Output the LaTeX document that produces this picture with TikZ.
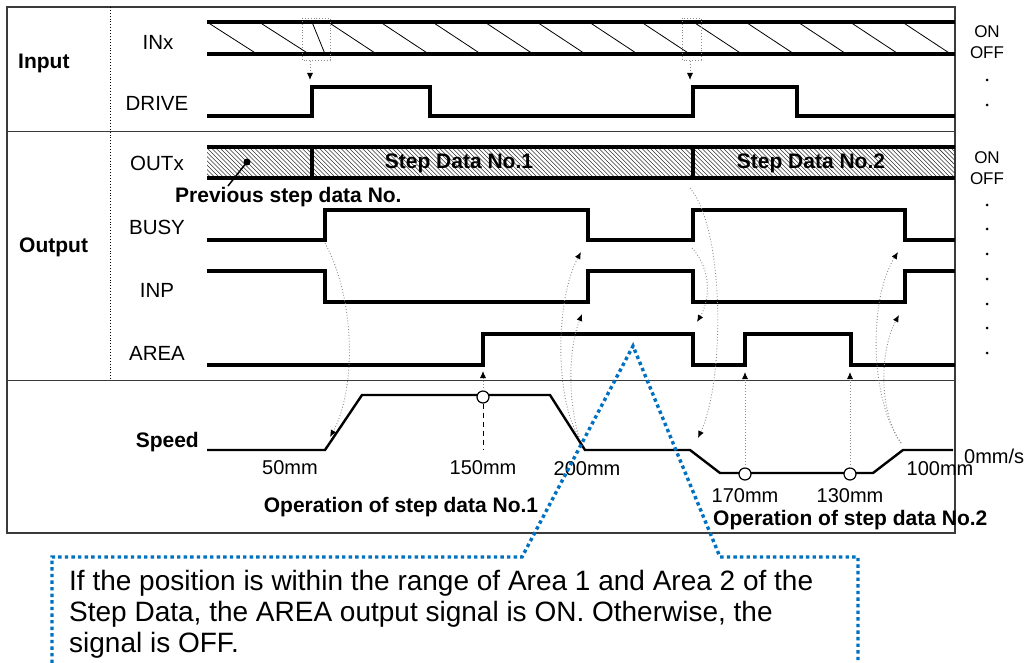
\documentclass[tikz,border=0pt]{standalone}
\usepackage{fontspec}
\setmainfont{Liberation Sans}
\usetikzlibrary{arrows.meta}
\definecolor{calloutblue}{HTML}{0070C0}
\definecolor{framegray}{HTML}{3A3A3A}
\definecolor{causegray}{HTML}{8C8C8C}
\begin{document}
\begin{tikzpicture}[x=1pt,y=-1pt,
  sig/.style={line width=3.2pt, line join=miter},
  spd/.style={line width=2.4pt, line join=miter},
  framestyle/.style={line width=1.3pt, draw=framegray},
  seplin/.style={line width=1pt, draw=framegray},
  lbl/.style={font=\fontsize{20.5}{24}\selectfont, inner sep=0pt},
  blbl/.style={font=\fontsize{21}{24}\selectfont\bfseries, inner sep=0pt},
  mmlbl/.style={font=\fontsize{20}{22}\selectfont, inner sep=0pt},
  onoff/.style={font=\fontsize{17}{20}\selectfont, inner sep=0pt},
  calltext/.style={font=\fontsize{28}{31}\selectfont, inner sep=0pt, anchor=base west},
  cause/.style={draw=causegray, dotted, line width=0.9pt, -{Latex[length=7pt,width=6pt,color=black]}},
  hatchln/.style={line width=0.8pt},
  gbox/.style={draw=causegray, dotted, line width=0.9pt},
  posmark/.style={circle, draw, fill=white, line width=1.2pt, minimum size=12pt, inner sep=0pt},
  bluedot/.style={draw=calloutblue, line width=3.4pt, dash pattern=on 3.4pt off 3.2pt},
  ondot/.style={circle, fill=black, minimum size=3pt, inner sep=0pt},
]
\useasboundingbox (0,0) rectangle (1031,663);

% ---------- frame ----------
\draw[framestyle] (7,7) rectangle (955,533);
\draw[seplin] (7,132) -- (955,132);
\draw[seplin] (7,380) -- (955,380);
\draw[dotted, line width=0.9pt] (110,7) -- (110,380);

% ---------- section labels ----------
\node[blbl, anchor=west] (input) at (18,63) {Input};
\node[blbl, anchor=west] (output) at (19,247) {Output};
\node[blbl, anchor=east] (speed) at (199,442) {Speed};

\node[lbl] (inx) at (158,42) {INx};
\node[lbl] (drive) at (157,103) {DRIVE};
\node[lbl] (outx) at (157,163) {OUTx};
\node[lbl] (busy) at (157,227) {BUSY};
\node[lbl] (inp) at (157,290) {INP};
\node[lbl] (area) at (157,353) {AREA};

% ---------- INx ----------
\foreach \t in {207,259} \draw[hatchln] (\t,22) -- (\t+50,54);
\draw[hatchln] (312,22) -- (325,54);
\foreach \k in {0,...,11} {
  \pgfmathsetmacro\tt{328+52.2*\k}
  \draw[hatchln] (\tt,22) -- (\tt+48.5,54);
}
\draw[sig] (207,22) -- (955,22);
\draw[sig] (207,54) -- (955,54);
\draw[gbox] (302,18) rectangle (330,60);
\draw[gbox] (682,18) rectangle (701,60);
\coordinate (boxA) at (310,61);
\coordinate (driveA) at (310,80);
\coordinate (boxB) at (690,61);
\coordinate (driveB) at (690,80);
\draw[cause] (boxA) -- (driveA);
\draw[cause] (boxB) -- (driveB);

% ---------- DRIVE ----------
\draw[sig] (207,116) -- (312,116) -- (312,87) -- (430,87) -- (430,116) -- (693,116) -- (693,87) -- (797,87) -- (797,116) -- (955,116);

% ---------- OUTx ----------
\begin{scope}
  \clip (207,147) rectangle (955,178);
  \foreach \x in {176,180.3,...,956} \draw[line width=0.55pt, draw=black!80] (\x,147) -- (\x+31,178);
\end{scope}
\draw[sig] (207,147) -- (955,147);
\draw[sig] (207,178) -- (955,178);
\draw[sig] (312,147) -- (312,178);
\draw[sig] (693,147) -- (693,178);
\node[blbl] (sd1) at (459,163) {Step Data No.1};
\node[blbl] (sd2) at (811,163) {Step Data No.2};
\node[circle, fill=black, minimum size=7pt, inner sep=0pt] (prevdot) at (247,162) {};
\coordinate (prevend) at (228,186);
\draw[line width=1.5pt] (prevdot.center) -- (prevend);
\node[blbl, anchor=west] (prev) at (175,197) {Previous step data No.};

% ---------- BUSY / INP / AREA ----------
\draw[sig] (207,240) -- (325,240) -- (325,210) -- (588,210) -- (588,240) -- (693,240) -- (693,210) -- (905,210) -- (905,240) -- (955,240);
\draw[sig] (207,271) -- (325,271) -- (325,302) -- (588,302) -- (588,271) -- (693,271) -- (693,302) -- (905,302) -- (905,271) -- (955,271);
\draw[sig] (207,365) -- (483,365) -- (483,334) -- (693,334) -- (693,365) -- (745,365) -- (745,334) -- (851,334) -- (851,365) -- (955,365);

% ---------- ON/OFF marks ----------
\node[onoff] (on1) at (987,32) {ON};
\node[onoff] (off1) at (987,53) {OFF};
\node[ondot] (d1) at (987,80) {};
\node[ondot] (d2) at (987,105) {};
\node[onoff] (on2) at (987,158) {ON};
\node[onoff] (off2) at (987,179) {OFF};
\foreach \y [count=\i] in {205,229,254,279,304,328,353}
  \node[ondot] (e\i) at (987,\y) {};

% ---------- Speed ----------
\draw[spd] (207,450) -- (325,450) -- (362,395) -- (550,395) -- (585,450) -- (690,450) -- (720,473) -- (873,473) -- (903,450) -- (953,450);
\node[posmark] (p150) at (483,397) {};
\node[posmark] (p170) at (745,474) {};
\node[posmark] (p130) at (850,474) {};
\coordinate (p150base) at (483,450);
\draw[line width=1pt, dash pattern=on 5pt off 4pt] (p150.south) -- (p150base);
\coordinate (areaUp1) at (483,371);
\coordinate (areaDn1) at (745,372);
\coordinate (areaUp2) at (850,372);
\draw[cause] (p150.north) -- (areaUp1);
\draw[cause] (p170.north) -- (areaDn1);
\draw[cause] (p130.north) -- (areaUp2);

\node[mmlbl] (m50) at (290,468) {50mm};
\node[mmlbl] (m150) at (483,468) {150mm};
\node[mmlbl] (m200) at (587,469) {200mm};
\node[mmlbl] (m170) at (745,496) {170mm};
\node[mmlbl] (m130) at (850,496) {130mm};
\node[mmlbl] (m100) at (940,469) {100mm};
\node[mmlbl, anchor=west] (m0) at (964,456) {0mm/s};
\node[blbl] (op1) at (401,507) {Operation of step data No.1};
\node[blbl, anchor=west] (op2) at (713,520) {Operation of step data No.2};

% ---------- cause arrows ----------
\coordinate (busyR1) at (325,243);
\coordinate (spdR1) at (330,437);
\draw[cause] (busyR1) .. controls (356,300) and (356,390) .. (spdR1);

\coordinate (spdF1) at (579,437);
\coordinate (busyF1) at (581,252);
\coordinate (inpR1) at (582,314);
\draw[cause] (spdF1) .. controls (555,400) and (555,300) .. (busyF1);
\draw[cause] (spdF1) .. controls (568,400) and (568,350) .. (inpR1);

\coordinate (outT2) at (690,188);
\coordinate (spdF2) at (698,438);
\draw[cause] (outT2) .. controls (725,230) and (725,380) .. (spdF2);
\coordinate (busyR2) at (692,248);
\coordinate (areaF2) at (697,322);
\draw[cause] (busyR2) .. controls (712,270) and (710,300) .. (areaF2);

\coordinate (spdR3) at (901,443);
\coordinate (busyF3) at (898,252);
\coordinate (inpR3) at (899,315);
\draw[cause] (spdR3) .. controls (870,400) and (868,300) .. (busyF3);
\draw[cause] (spdR3) .. controls (878,410) and (880,350) .. (inpR3);

% ---------- callout ----------
\coordinate (apex) at (633,346);
\draw[bluedot] (52,663) -- (52,557) -- (522,557) -- (apex) -- (720,557) -- (858,557) -- (858,663);
\node[calltext] (t1) at (69,590) {If the position is within the range of Area 1 and Area 2 of the};
\node[calltext] (t2) at (69,621) {Step Data, the AREA output signal is ON. Otherwise, the};
\node[calltext] (t3) at (69,652) {signal is OFF.};
\end{tikzpicture}
\end{document}
